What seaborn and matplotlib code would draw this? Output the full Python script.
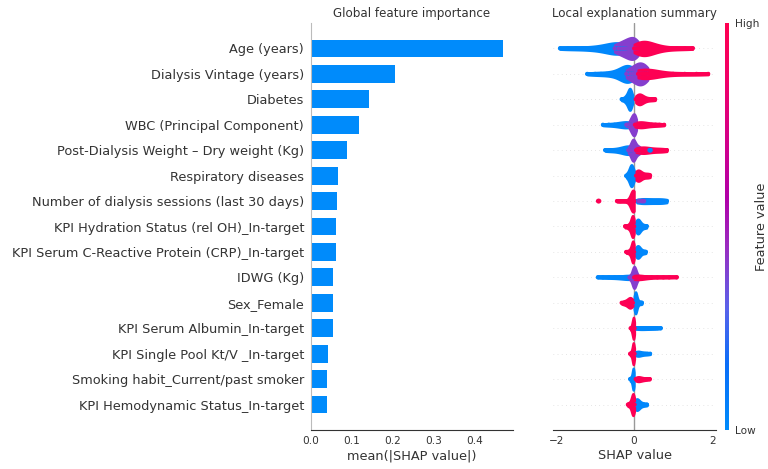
import numpy as np
import pandas as pd
import seaborn as sns
import matplotlib as mpl
import matplotlib.pyplot as plt
from matplotlib.colors import LinearSegmentedColormap
from matplotlib.collections import PolyCollection

FEATURES = [
    "Age (years)",
    "Dialysis Vintage (years)",
    "Diabetes",
    "WBC (Principal Component)",
    "Post-Dialysis Weight – Dry weight (Kg)",
    "Respiratory diseases",
    "Number of dialysis sessions (last 30 days)",
    "KPI Hydration Status (rel OH)_In-target",
    "KPI Serum C-Reactive Protein (CRP)_In-target",
    "IDWG (Kg)",
    "Sex_Female",
    "KPI Serum Albumin_In-target",
    "KPI Single Pool Kt/V _In-target",
    "Smoking habit_Current/past smoker",
    "KPI Hemodynamic Status_In-target",
]

MEAN_ABS_SHAP = [0.469, 0.205, 0.142, 0.116, 0.088, 0.066, 0.063, 0.062,
                 0.060, 0.054, 0.054, 0.053, 0.042, 0.040, 0.039]

SHAP_LOW = [
    [-1.9, -1.7, -1.5, -1.3, -1.15, -1.0, -0.9, -0.8, -0.72, -0.66, -0.6, -0.56,
     -0.52, -0.48, -0.45, -0.42, -0.39, -0.36, -0.33, -0.3, -0.27, -0.24, -0.2],
    [-1.2, -1.0, -0.85, -0.7, -0.58, -0.48, -0.4, -0.34, -0.3, -0.27, -0.24, -0.22,
     -0.2, -0.18, -0.16, -0.14, -0.12, -0.1, -0.08, -0.06, -0.04, -0.02],
    [-0.32, -0.26, -0.22, -0.2, -0.18, -0.16, -0.15, -0.14, -0.13, -0.12, -0.12,
     -0.11, -0.1, -0.1, -0.09, -0.08, -0.07, -0.06, -0.04],
    [-0.8, -0.65, -0.5, -0.4, -0.32, -0.26, -0.2, -0.15, -0.12, -0.08],
    [-0.74, -0.6, -0.45, -0.35, -0.28, -0.22, -0.17, -0.13, -0.1, -0.08, -0.06],
    [-0.2, -0.16, -0.14, -0.12, -0.11, -0.1, -0.09, -0.08, -0.07, -0.07, -0.06,
     -0.05, -0.04, -0.03, -0.02, 0.0, 0.02],
    [0.07, 0.12, 0.18, 0.25, 0.32, 0.4, 0.48, 0.56, 0.64, 0.72, 0.78, 0.84],
    [0.02, 0.05, 0.07, 0.08, 0.09, 0.1, 0.11, 0.12, 0.14, 0.17, 0.2, 0.26, 0.32],
    [0.02, 0.05, 0.07, 0.08, 0.1, 0.11, 0.12, 0.14, 0.18, 0.24, 0.3],
    [-0.93, -0.8, -0.65, -0.5, -0.38, -0.28, -0.2, -0.14, -0.1, -0.07, -0.05, -0.03],
    [0.0, 0.01, 0.02, 0.02, 0.03, 0.03, 0.03, 0.04, 0.04, 0.05, 0.05, 0.06, 0.07,
     0.09, 0.12, 0.16, 0.2],
    [0.04, 0.07, 0.1, 0.14, 0.18, 0.22, 0.26, 0.3, 0.35, 0.4, 0.45, 0.5, 0.55, 0.6, 0.68],
    [0.03, 0.05, 0.07, 0.09, 0.11, 0.13, 0.16, 0.2, 0.25, 0.3, 0.35, 0.41],
    [-0.1, -0.07, -0.05, -0.04, -0.03, -0.03, -0.02, -0.02, -0.01, -0.01, 0.0],
    [0.02, 0.04, 0.05, 0.06, 0.07, 0.08, 0.1, 0.12, 0.15, 0.2, 0.26, 0.33],
]
SHAP_MID = [
    [-0.5, -0.4, -0.32, -0.25, -0.2, -0.15, -0.1, -0.06, -0.02, 0.02, 0.06, 0.1],
    [-0.2, -0.1, -0.03, 0.03, 0.08, 0.12, 0.16, 0.2, 0.25, 0.3, 0.35],
    [],
    [-0.2, -0.12, -0.1, -0.08, -0.06, -0.05, -0.04, -0.03, -0.02, 0.0, 0.0, 0.01,
     0.02, 0.03, 0.04, 0.06],
    [-0.15, -0.1, -0.07, -0.05, -0.04, -0.03, -0.02, -0.01, 0.0, 0.02, 0.05, 0.08,
     0.12, 0.16],
    [],
    [],
    [],
    [],
    [-0.12, -0.08, -0.05, -0.04, -0.03, -0.02, -0.01, 0.0, 0.0, 0.01, 0.02, 0.03,
     0.04, 0.05, 0.07, 0.1],
    [],
    [],
    [],
    [],
    [],
]
SHAP_HIGH = [
    [0.0, 0.04, 0.08, 0.1, 0.13, 0.16, 0.18, 0.2, 0.22, 0.24, 0.27, 0.3, 0.32, 0.35,
     0.38, 0.42, 0.46, 0.5, 0.56, 0.62, 0.7, 0.8, 0.95, 1.1, 1.3, 1.5],
    [0.1, 0.15, 0.2, 0.22, 0.25, 0.28, 0.3, 0.35, 0.4, 0.55, 0.75, 1.0, 1.3, 1.6, 1.9],
    [0.04, 0.07, 0.1, 0.12, 0.13, 0.14, 0.16, 0.18, 0.22, 0.28, 0.35, 0.45, 0.54],
    [0.02, 0.06, 0.1, 0.14, 0.18, 0.22, 0.28, 0.35, 0.45, 0.55, 0.65, 0.77],
    [0.05, 0.1, 0.15, 0.2, 0.25, 0.3, 0.35, 0.45, 0.55, 0.65, 0.75, 0.84],
    [0.05, 0.07, 0.09, 0.1, 0.12, 0.15, 0.2, 0.28, 0.35, 0.41],
    [-0.44, -0.35, -0.25, -0.15, -0.08, -0.06, -0.05, -0.04, -0.04, -0.03, -0.03,
     -0.03, -0.02, -0.02, -0.02, -0.01, -0.01, -0.01, 0.0, 0.0],
    [-0.23, -0.16, -0.12, -0.09, -0.07, -0.06, -0.05, -0.04, -0.04, -0.03, -0.03,
     -0.02, -0.01, 0.0],
    [-0.2, -0.14, -0.1, -0.08, -0.06, -0.05, -0.04, -0.04, -0.03, -0.03, -0.02,
     -0.02, -0.01, 0.0],
    [0.0, 0.02, 0.04, 0.05, 0.06, 0.08, 0.1, 0.12, 0.15, 0.2, 0.3, 0.45, 0.6, 0.75,
     0.9, 1.09],
    [-0.32, -0.26, -0.22, -0.18, -0.15, -0.13, -0.12, -0.1, -0.09, -0.07, -0.05, -0.03],
    [-0.09, -0.06, -0.05, -0.04, -0.03, -0.03, -0.02, -0.02, -0.01, -0.01, 0.0,
     0.0, 0.01],
    [-0.1, -0.07, -0.05, -0.04, -0.03, -0.03, -0.02, -0.02, -0.01, -0.01, 0.0, 0.01],
    [0.04, 0.06, 0.08, 0.1, 0.12, 0.15, 0.18, 0.22, 0.27, 0.33, 0.4],
    [-0.16, -0.11, -0.08, -0.06, -0.05, -0.04, -0.03, -0.03, -0.02, -0.01, 0.0, 0.01],
]

# isolated points away from the bulk of a row: (feature index, group, SHAP value)
STRAY_ROW = [4, 4, 6, 6, 6, 6, 6]
STRAY_GROUP = ["low", "low", "high", "high", "mid", "mid", "mid"]
STRAY_SHAP = [0.4, 0.42, -0.92, -0.9, 0.12, 0.2, 0.25]

GROUPS = ["low", "mid", "high"]

BLUE = "#008bfb"
GREY_TEXT = "#333333"

CMAP = LinearSegmentedColormap.from_list("shap_red_blue", [
    (0.0, "#008bfb"), (0.16, "#0a6ef8"), (0.3, "#5a62ea"), (0.45, "#9a2cc0"),
    (0.57, "#b000a8"), (0.7, "#d0008c"), (0.86, "#f00068"), (1.0, "#ff0051"),
])
PALETTE = {"low": CMAP(0.02), "mid": CMAP(0.4), "high": CMAP(0.98)}


def swarm_frame(i: int) -> pd.DataFrame:
    rows = []
    for grp, src in zip(GROUPS, [SHAP_LOW, SHAP_MID, SHAP_HIGH]):
        for v in src[i]:
            rows.append({"feature": FEATURES[i], "group": grp, "shap": v})
    return pd.DataFrame(rows)


def runs(values, gap=0.3):
    # contiguous stretches of points, so sparse tails read as a solid line
    v = sorted(values)
    out, start = [], v[0]
    for a, b in zip(v[:-1], v[1:]):
        if b - a > gap:
            out.append((start, a))
            start = b
    out.append((start, v[-1]))
    return out


def style_bottom(ax):
    for side in ["top", "right", "left"]:
        ax.spines[side].set_visible(False)
    ax.spines["bottom"].set_color(GREY_TEXT)
    ax.tick_params(axis="x", labelsize=7.6, colors=GREY_TEXT, length=2.5, width=0.8, pad=2)


def main():
    sns.set_style("white")
    mpl.rcParams["font.family"] = ["DejaVu Sans"]

    fig = plt.figure(figsize=(7.68, 4.69), dpi=100)
    bottom, height = 1 - 430 / 469, 407 / 469
    ax1 = fig.add_axes([311 / 768, bottom, 202 / 768, height])
    ax2 = fig.add_axes([553 / 768, bottom, 163 / 768, height])
    cax = fig.add_axes([725 / 768, bottom, 4 / 768, height])

    # global importance bars
    bars = pd.DataFrame({"feature": FEATURES, "value": MEAN_ABS_SHAP})
    sns.barplot(data=bars, x="value", y="feature", order=FEATURES, color=BLUE,
                saturation=1, width=0.7, linewidth=0, ax=ax1)
    ax1.set_ylim(15, -1)
    ax1.set_xlim(0, 0.493)
    ax1.set_xticks([0, 0.1, 0.2, 0.3, 0.4])
    ax1.set_xticklabels(["0.0", "0.1", "0.2", "0.3", "0.4"])
    style_bottom(ax1)
    ax1.spines["left"].set_visible(True)
    ax1.spines["left"].set_color("#bbbbbb")
    ax1.tick_params(axis="y", labelsize=9.3, colors=GREY_TEXT, length=0, pad=5)
    ax1.set_ylabel("")
    ax1.set_xlabel("mean(|SHAP value|)", fontsize=9.3, color=GREY_TEXT, labelpad=2)
    ax1.set_title("Global feature importance", fontsize=8.6, color=GREY_TEXT, pad=4)

    # local explanation swarm, one row at a time so each row gets its own scale
    for i in range(len(FEATURES)):
        ax2.axhline(i, color="#cccccc", lw=0.5, dashes=(1, 5), zorder=-1)
        for grp, src in zip(GROUPS, [SHAP_LOW, SHAP_MID, SHAP_HIGH]):
            if src[i]:
                for lo, hi in runs(src[i]):
                    ax2.plot([lo, hi], [i, i], color=PALETTE[grp], lw=2.8,
                             solid_capstyle="round", zorder=0.5)
        sub = swarm_frame(i)
        sns.violinplot(data=sub, x="shap", y="feature", hue="group", order=FEATURES,
                       hue_order=GROUPS, palette=PALETTE, dodge=False,
                       density_norm="area", common_norm=True, cut=0, inner=None,
                       linewidth=0, width=0.86, bw_adjust=0.9, saturation=1,
                       legend=False, ax=ax2)
        sns.stripplot(data=sub, x="shap", y="feature", hue="group", order=FEATURES,
                      hue_order=GROUPS, palette=PALETTE, jitter=False, dodge=False,
                      size=3, linewidth=0, legend=False, ax=ax2)
    # give the violin outlines the dot radius, like the packed markers of a swarm
    for coll in ax2.collections:
        if isinstance(coll, PolyCollection):
            coll.set_edgecolor(coll.get_facecolor())
            coll.set_linewidth(1.6)

    strays = pd.DataFrame({"feature": [FEATURES[r] for r in STRAY_ROW],
                           "group": STRAY_GROUP, "shap": STRAY_SHAP})
    sns.stripplot(data=strays, x="shap", y="feature", hue="group", order=FEATURES,
                  hue_order=GROUPS, palette=PALETTE, jitter=False, dodge=False,
                  size=3.4, linewidth=0, legend=False, ax=ax2)

    ax2.axvline(0, color="#999999", lw=1, zorder=-1)
    ax2.set_ylim(15, -1)
    ax2.set_xlim(-2.08, 2.1)
    ax2.set_xticks([-2, 0, 2])
    ax2.set_yticks([])
    ax2.set_ylabel("")
    style_bottom(ax2)
    ax2.set_xlabel("SHAP value", fontsize=9.3, color=GREY_TEXT, labelpad=2)
    ax2.set_title("Local explanation summary", fontsize=8.6, color=GREY_TEXT, pad=4)

    cb = mpl.colorbar.ColorbarBase(cax, cmap=CMAP, orientation="vertical")
    cb.set_ticks([0, 1])
    cb.set_ticklabels(["Low", "High"])
    cb.outline.set_visible(False)
    cax.tick_params(labelsize=7.6, length=0, pad=4, colors=GREY_TEXT)
    cb.set_label("Feature value", fontsize=9.3, color=GREY_TEXT, labelpad=-3)

    fig.savefig("out.png", dpi=100)
    plt.close(fig)


if __name__ == "__main__":
    main()
